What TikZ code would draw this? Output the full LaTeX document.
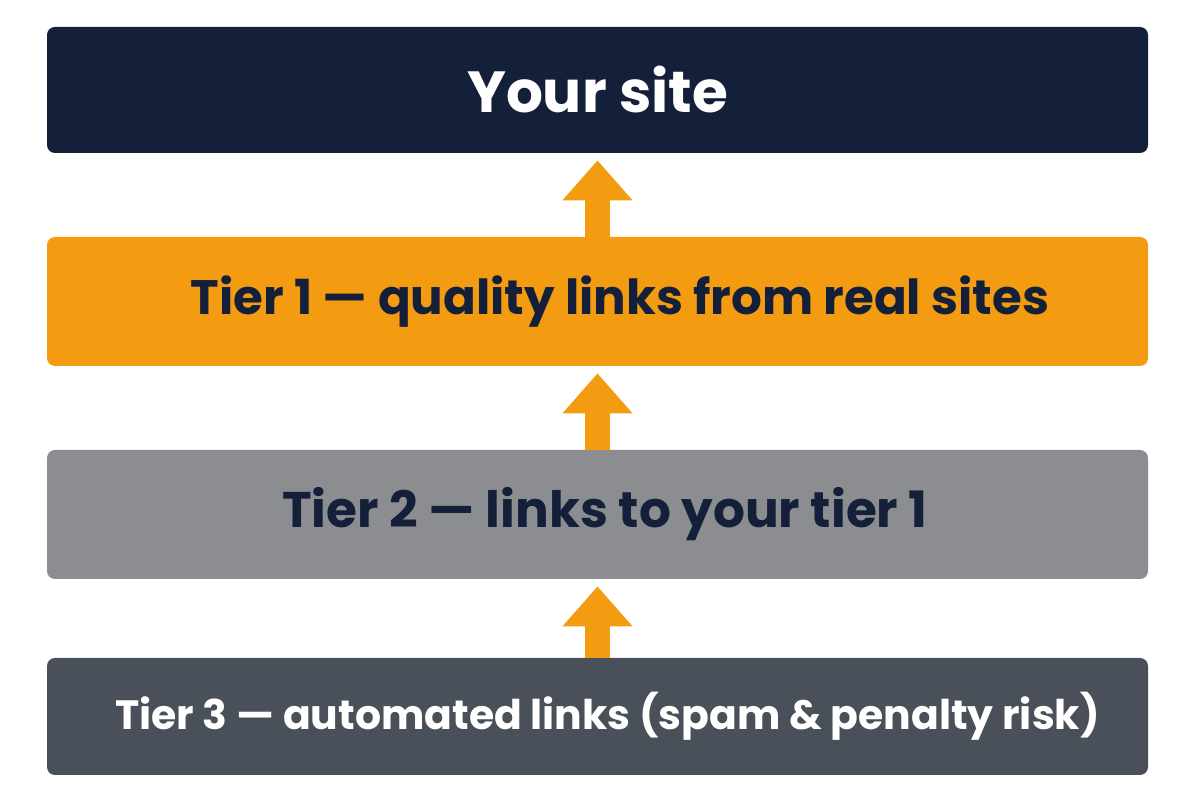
\documentclass[tikz,border=0pt]{standalone}
\usepackage{fontspec}
\setmainfont{Poppins}
\usetikzlibrary{positioning, arrows.meta}
\definecolor{navy}{HTML}{14203A}
\definecolor{amber}{HTML}{F39C12}
\definecolor{midgray}{HTML}{8B8D90}
\definecolor{slate}{HTML}{4A5059}

\begin{document}
\begin{tikzpicture}
        \useasboundingbox (0,0) rectangle (24,16);
        \tikzset{
            tier/.style={rounded corners=0.16cm, minimum width=22.02cm, inner sep=0pt, font=\bfseries},
            up/.style={amber, line width=0.5cm, -{Triangle[width=1.35cm, length=0.8cm]}, shorten >=0.14cm}
        }

        \node[tier, fill=navy, text=white, minimum height=2.52cm, font=\bfseries\fontsize{33}{36}\selectfont] (site) at (11.95,14.2) {Your site};
        \node[tier, fill=amber, text=navy, minimum height=2.58cm, font=\bfseries\fontsize{27.5}{30}\selectfont] (t1) at (11.95,9.97) {\hspace{0.9cm}Tier 1 — quality links from real sites};
        \node[tier, fill=midgray, text=navy, minimum height=2.58cm, font=\bfseries\fontsize{28.5}{32}\selectfont] (t2) at (11.95,5.71) {\hspace{0.3cm}Tier 2 — links to your tier 1};
        \node[tier, fill=slate, text=white, minimum height=2.34cm, font=\bfseries\fontsize{23.3}{27}\selectfont] (t3) at (11.95,1.67) {\hspace{0.4cm}Tier 3 — automated links (spam \& penalty risk)};

        \draw[up] (t1.north) -- (site.south);
        \draw[up] (t2.north) -- (t1.south);
        \draw[up] (t3.north) -- (t2.south);
\end{tikzpicture}
\end{document}
